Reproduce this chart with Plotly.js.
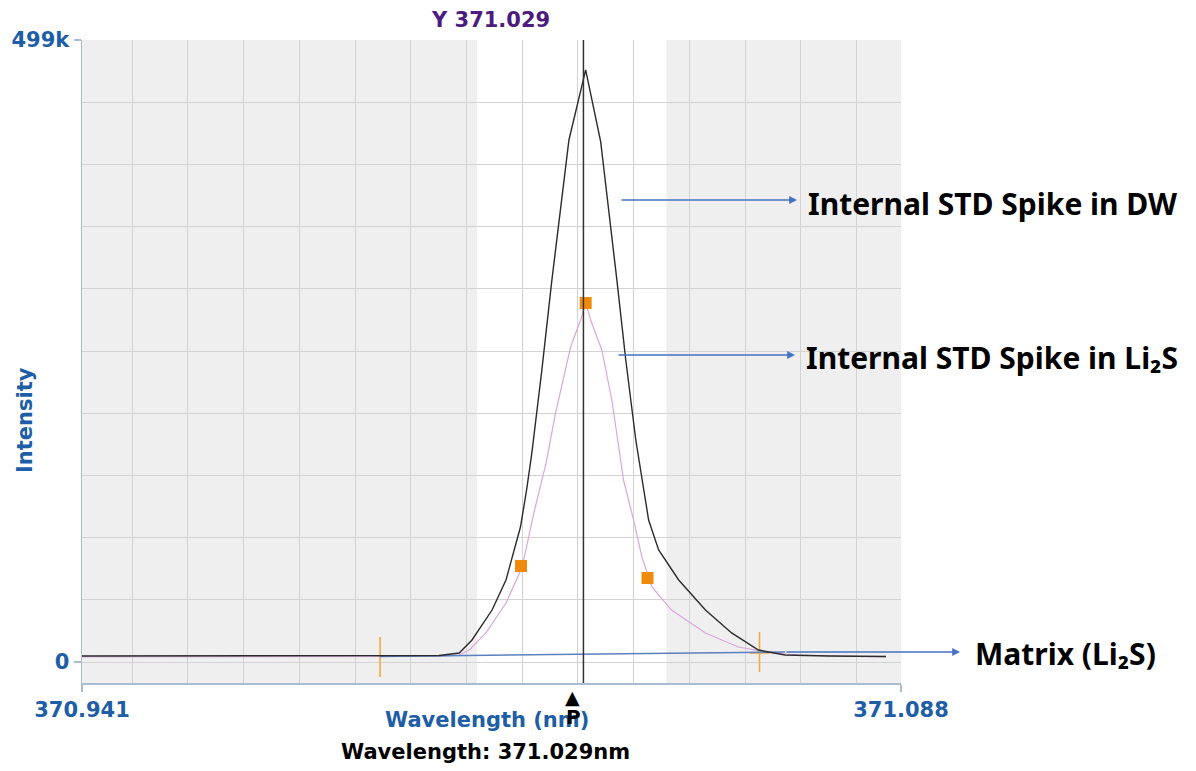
<!DOCTYPE html>
<html>
<head>
<meta charset="utf-8">
<script src="https://cdn.plot.ly/plotly-3.0.1.min.js"></script>
<style>html,body{margin:0;padding:0;background:#fff;}#chart{width:1196px;height:771px;}</style>
</head>
<body>
<div id="chart"></div>
<script>
// ---- data ----
const dwWavelength = [370.941, 370.9514, 370.9622, 370.9801, 370.9944, 371.0051, 371.0087, 371.0110, 371.0146, 371.0171, 371.0197, 371.0208, 371.0217, 371.0235, 371.0253, 371.0284, 371.0314, 371.0341, 371.0370, 371.0386, 371.0404, 371.0427, 371.0445, 371.0481, 371.0529, 371.0576, 371.0624, 371.0672, 371.0749, 371.0853];
const dwIntensity  = [4800, 4800, 5200, 5200, 4800, 5200, 7200, 17650, 41700, 65800, 108300, 138000, 166100, 232700, 304900, 418800, 475000, 417200, 306500, 242300, 178100, 113900, 89900, 65800, 41700, 23300, 9600, 5600, 4800, 4400];

const li2sWavelength = [370.941, 370.9801, 371.0051, 371.0087, 371.0105, 371.0135, 371.0171, 371.0200, 371.0221, 371.0243, 371.0260, 371.0287, 371.0305, 371.0314, 371.0323, 371.0343, 371.0361, 371.0382, 371.0400, 371.0415, 371.0433, 371.0468, 371.0529, 371.0588, 371.0647, 371.0696, 371.0853];
const li2sIntensity  = [4000, 4000, 4400, 5600, 9600, 23300, 47300, 76200, 119500, 159700, 199800, 252700, 274400, 288000, 274400, 250300, 210200, 146000, 113900, 84200, 60200, 41700, 23300, 12000, 7200, 5600, 4000];

const matrixWavelength = [370.9944, 371.0110, 371.0337, 371.0529, 371.0672];
const matrixIntensity  = [4400, 5200, 6000, 7000, 8000];

const peakPointWavelength = [371.0198, 371.0314, 371.0425];
const peakPointIntensity  = [77000, 288000, 67400];

const backgroundWavelength = [370.9945, 371.0626];
const backgroundLow  = [-12000, -8000];
const backgroundHigh = [20000, 24000];
const backgroundLevel = [4800, 7000];

const cursorWavelength = 371.031;
const windowStart = 371.0119, windowEnd = 371.0459;

const xMin = 370.941, xMax = 371.088;
const yMin = -16850, yMax = 499000;
const xTickText = ['370.941', '371.088'];
const yTickText = ['0', '499k'];

const labelTop = 'Y 371.029';
const labelX = 'Wavelength (nm)';
const labelY = 'Intensity';
const labelCursor = 'Wavelength: 371.029nm';
const calloutTexts = ['Internal STD Spike in DW', 'Internal STD Spike in Li₂S', 'Matrix (Li₂S)'];

// ---- traces ----
const traces = [];
backgroundWavelength.forEach((w, i) => {
  traces.push({x: [w, w], y: [backgroundLow[i], backgroundHigh[i]], mode: 'lines', line: {color: '#f5a940', width: 1.6}, hoverinfo: 'skip'});
  traces.push({x: [w - 0.0018, w + 0.0018], y: [backgroundLevel[i], backgroundLevel[i]], mode: 'lines', line: {color: '#f5b860', width: 1.5}, hoverinfo: 'skip'});
});
traces.push({x: li2sWavelength, y: li2sIntensity, mode: 'lines', line: {color: '#dca6dc', width: 1.2}});
traces.push({x: matrixWavelength, y: matrixIntensity, mode: 'lines', line: {color: '#5b7fbf', width: 1.5}});
traces.push({x: dwWavelength, y: dwIntensity, mode: 'lines', line: {color: '#2b2b2b', width: 1.4}});
traces.push({x: peakPointWavelength, y: peakPointIntensity, mode: 'markers', marker: {symbol: 'square', size: 12, color: '#ef8a0c'}});

const blue = '#1d5ea6';
const axisCol = '#a9bcd2';
const gridCol = '#d3d3d3';
const axisFont = 'DejaVu Sans, Verdana, sans-serif';
const calloutFont = 'Noto Sans, DejaVu Sans, sans-serif';

function px2x(px) { return (px - 82) / 819; }
function py2y(py) { return (683 - py) / 643; }

function label(text, px, py, f, extra) {
  return Object.assign({text: text, x: px2x(px), y: py2y(py), xref: 'paper', yref: 'paper', xanchor: 'center', yanchor: 'middle', showarrow: false, font: f}, extra || {});
}

const arrowColor = '#4472c4';
function arrow(headPx, headPy, len) {
  return {text: '', x: px2x(headPx), y: py2y(headPy), xref: 'paper', yref: 'paper', showarrow: true, ax: -len, ay: 0, arrowhead: 2, arrowsize: 1.2, arrowwidth: 1.3, arrowcolor: arrowColor};
}

const annotations = [
  label(labelTop, 490, 20, {family: axisFont, size: 21, color: '#4b1b80', weight: 700}),
  label(labelX, 487, 720, {family: axisFont, size: 21, color: blue, weight: 700}),
  label(labelY, 25, 420, {family: axisFont, size: 21, color: blue, weight: 700}, {textangle: -90}),
  label('▲', 572, 697, {family: axisFont, size: 19, color: '#000'}),
  label('P', 573, 717, {family: axisFont, size: 20, color: '#000', weight: 700}),
  label(labelCursor, 485, 752, {family: axisFont, size: 21, color: '#000', weight: 700}),
  arrow(797, 200, 177),
  arrow(795, 355, 178),
  arrow(960, 652, 175),
  label(calloutTexts[0], 806, 203, {family: calloutFont, size: 30, color: '#000', weight: 700}, {xanchor: 'left'}),
  label(calloutTexts[1], 804, 357, {family: calloutFont, size: 30, color: '#000', weight: 700}, {xanchor: 'left'}),
  label(calloutTexts[2], 973, 653, {family: calloutFont, size: 30, color: '#000', weight: 700}, {xanchor: 'left'})
];

const layout = {
  width: 1196, height: 771,
  margin: {l: 82, r: 295, t: 40, b: 88},
  paper_bgcolor: '#ffffff',
  plot_bgcolor: '#efefef',
  showlegend: false,
  xaxis: {
    range: [xMin, xMax], tickmode: 'array', tickvals: [xMin, xMax], ticktext: xTickText,
    ticks: 'outside', ticklen: 7, tickcolor: axisCol, tickwidth: 1.5,
    showline: true, linecolor: axisCol, linewidth: 1.5,
    showgrid: false, zeroline: false,
    tickfont: {family: axisFont, size: 21, color: blue, weight: 700},
    minor: {tick0: 370.95, dtick: 0.01, showgrid: true, gridcolor: gridCol, gridwidth: 1, ticks: ''}
  },
  yaxis: {
    range: [yMin, yMax], tickmode: 'array', tickvals: [0, yMax], ticktext: yTickText,
    ticks: 'outside', ticklen: 7, tickcolor: axisCol, tickwidth: 1.5,
    showline: true, linecolor: axisCol, linewidth: 1.5,
    showgrid: true, gridcolor: gridCol, zeroline: false,
    tickfont: {family: axisFont, size: 21, color: blue, weight: 700},
    minor: {tick0: 0, dtick: yMax / 10, showgrid: true, gridcolor: gridCol, gridwidth: 1, ticks: ''}
  },
  shapes: [
    {type: 'rect', xref: 'x', yref: 'paper', x0: windowStart, x1: windowEnd, y0: 0, y1: 1, fillcolor: '#ffffff', line: {width: 0}, layer: 'below'},
    {type: 'line', xref: 'x', yref: 'paper', x0: cursorWavelength, x1: cursorWavelength, y0: 0, y1: 1, line: {color: '#333333', width: 1.5}}
  ],
  annotations: annotations
};

Plotly.newPlot('chart', traces, layout, {staticPlot: true, displayModeBar: false});
</script>
</body>
</html>
